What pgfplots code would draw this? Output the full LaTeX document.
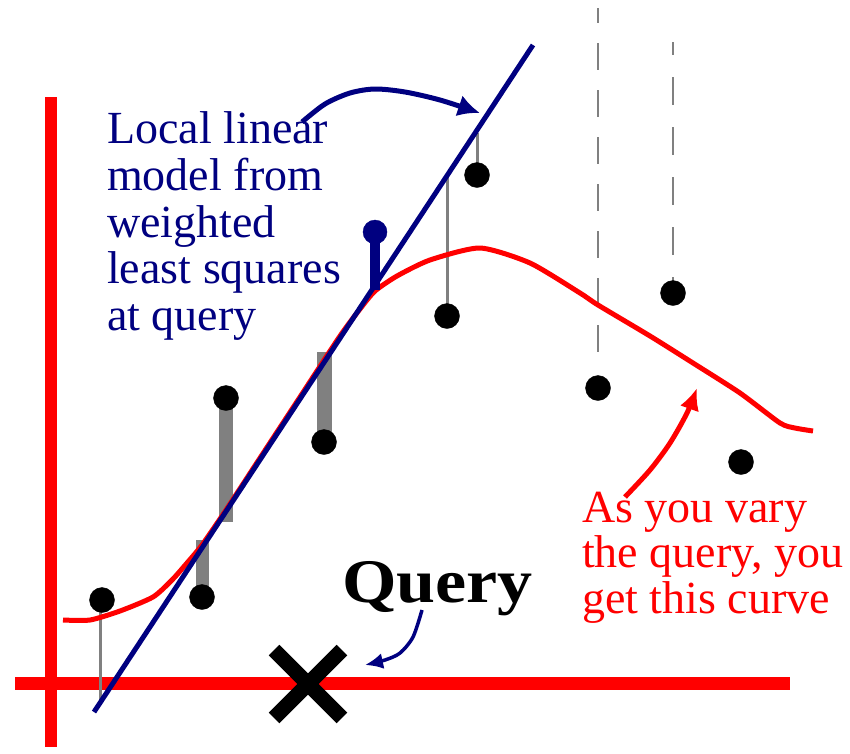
\documentclass[border=0pt]{standalone}
\usepackage{pgfplots}
\pgfplotsset{compat=1.18}
\usepackage{fontspec}
\usepackage{graphicx}
\setmainfont{Liberation Serif}
\usetikzlibrary{arrows.meta}
\definecolor{navy}{RGB}{0,0,128}
\definecolor{pure red}{RGB}{255,0,0}
\definecolor{midgray}{RGB}{128,128,128}
\begin{document}
\begin{tikzpicture}
\begin{axis}[scale only axis, width=850pt, height=747pt,
  xmin=0, xmax=850, ymin=0, ymax=747, y dir=reverse,
  hide axis, clip=false]
% invisible frame for bounding box
\addplot[draw=none, forget plot] coordinates {(0,0) (850,747)};
% red axes
\addplot[pure red, line width=12pt] coordinates {(51,97) (51,747)};
\addplot[pure red, line width=13pt] coordinates {(15,683) (790,683)};
% dashed lines
\addplot[midgray, line width=2pt, dash pattern=on 27pt off 20pt, dash phase=12pt] coordinates {(598,8) (598,353)};
\addplot[midgray, line width=2pt, dash pattern=on 28pt off 22pt, dash phase=15pt] coordinates {(673,42) (673,282)};
% residual bars
\addplot[midgray, line width=3pt] coordinates {(100,600) (100,702)};
\addplot[midgray, line width=13pt] coordinates {(202,597) (202,540)};
\addplot[midgray, line width=14pt] coordinates {(226,398) (226,522)};
\addplot[midgray, line width=15pt] coordinates {(324,442) (324,352)};
\addplot[midgray, line width=3pt] coordinates {(447,316) (447,177)};
\addplot[midgray, line width=3pt] coordinates {(477,175) (477,133)};
% red curve
\addplot[pure red, line width=5pt, smooth, tension=0.4] coordinates {
(63,620) (90,620) (120,611) (153,597) (172,580) (187,563) (202,545) (226,510)
(260,458) (300,397) (340,336) (360,309) (375,291) (397,276) (430,260)
(480,248) (530,263) (580,293) (598,305) (650,336) (693,363) (740,393)
(780,423) (795,428) (813,431)};
% blue local linear model
\addplot[navy, line width=5pt] coordinates {(94,712) (533,45)};
% data points
\addplot[only marks, mark=*, mark size=12.5pt, mark options={fill=black, draw=black}] coordinates {
(102,600) (202,597) (226,398) (324,442) (447,316) (477,175) (598,388) (673,293) (741,462)};
% query residual
\addplot[navy, line width=10pt] coordinates {(375,232) (375,290)};
\addplot[only marks, mark=*, mark size=12pt, mark options={fill=navy, draw=navy}] coordinates {(375,232)};
% query cross
\addplot[only marks, mark=x, mark size=48pt, mark options={line width=15pt, draw=black}] coordinates {(308,684)};
% arrows
\addplot[navy, line width=5pt, smooth, -{Latex[length=22pt,width=22pt]}] coordinates {
(302,122) (325,104) (350,93) (375,89) (405,92) (440,100) (480,113)};
\addplot[navy, line width=3.5pt, smooth, -{Latex[open,length=18pt,width=16pt]}] coordinates {
(422,610) (413,637) (400,653) (385,660) (365,665)};
\addplot[pure red, line width=5pt, smooth, -{Latex[length=22pt,width=20pt]}] coordinates {
(625,497) (650,470) (670,443) (687,413) (697,388)};
% blue text
\node[anchor=base west, inner sep=0pt, text=navy, font=\fontsize{46}{47}\selectfont] at (axis cs:107,143) {Local linear};
\node[anchor=base west, inner sep=0pt, text=navy, font=\fontsize{46}{47}\selectfont] at (axis cs:107,190) {model from};
\node[anchor=base west, inner sep=0pt, text=navy, font=\fontsize{46}{47}\selectfont] at (axis cs:107,237) {weighted};
\node[anchor=base west, inner sep=0pt, text=navy, font=\fontsize{46}{47}\selectfont] at (axis cs:107,283) {least squares};
\node[anchor=base west, inner sep=0pt, text=navy, font=\fontsize{46}{47}\selectfont] at (axis cs:107,330) {at query};
% Query label
\node[anchor=base west, inner sep=0pt, text=black, font=\fontsize{62}{62}\selectfont\bfseries] at (axis cs:342,602) {\scalebox{1.13}[1]{Query}};
% red text
\node[anchor=base west, inner sep=0pt, text=pure red, font=\fontsize{46}{47}\selectfont] at (axis cs:582,522) {As you vary};
\node[anchor=base west, inner sep=0pt, text=pure red, font=\fontsize{46}{47}\selectfont] at (axis cs:582,567) {the query, you};
\node[anchor=base west, inner sep=0pt, text=pure red, font=\fontsize{46}{47}\selectfont] at (axis cs:582,613) {get this curve};
\end{axis}
\end{tikzpicture}
\end{document}
